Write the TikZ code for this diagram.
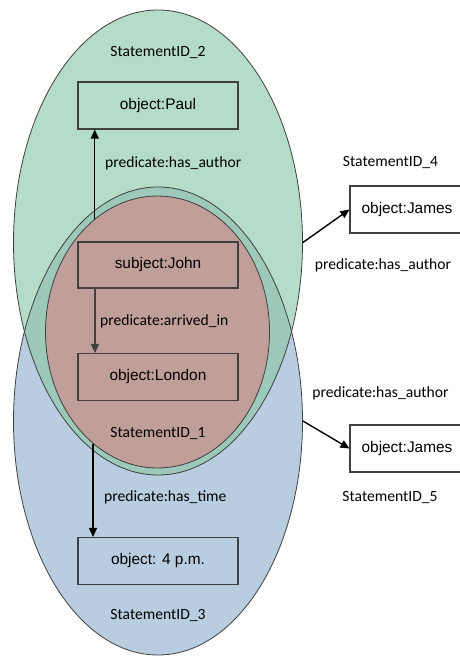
\documentclass[tikz,border=0pt]{standalone}
\usepackage{fontspec}
\setmainfont{Carlito}
\newfontfamily\boxfont{Liberation Sans}
\usetikzlibrary{shapes.geometric, arrows.meta}
\usetikzlibrary{positioning}
\definecolor{stmtgreen}{RGB}{181,220,200}
\definecolor{stmtblue}{RGB}{184,205,224}
\definecolor{stmtteal}{RGB}{156,201,185}
\definecolor{stmtrose}{RGB}{192,158,153}
\definecolor{edgegray}{RGB}{64,64,64}
\tikzset{
  stmt/.style={draw=edgegray, line width=0.8pt, ellipse, inner sep=0pt},
  obj/.style={draw=edgegray, line width=1.1pt, rectangle, minimum width=160pt,
    minimum height=47pt, inner sep=0pt, font=\boxfont\fontsize{15.4pt}{18pt}\selectfont},
  lbl/.style={font=\fontsize{15.6pt}{18pt}\selectfont, inner sep=0pt},
  arr/.style={-{Triangle[length=9pt,width=8pt]}, line width=1.4pt},
}

\begin{document}
\begin{tikzpicture}[x=1pt, y=-1pt]
          \useasboundingbox (0,0) rectangle (459,657);
          \node[stmt, fill=stmtgreen, minimum width=289pt, minimum height=465pt] (s2) at (158,242.5) {};
          \node[stmt, fill=stmtblue, minimum width=289pt, minimum height=468pt,
            path picture={\fill[stmtteal, draw=edgegray, line width=0.8pt]
              (s2.center) ellipse [x radius=144.5pt, y radius=232.5pt];}] (s3) at (158,421) {};
          \node[stmt, fill=stmtrose, minimum width=224pt, minimum height=272pt] (s1) at (157.5,332) {};

          \node[obj] (paul) at (158,105.5) {object:Paul};
          \node[obj, minimum height=46pt] (john) at (158,265) {subject:John};
          \node[obj] (london) at (158,377) {object:London};
          \node[obj] (time) at (158,561) {object: 4 p.m.};
          \node[obj, minimum width=114pt] (james4) at (407,209.5) {object:James};
          \node[obj, minimum width=114pt] (james5) at (407,448.5) {object:James};

          \node[lbl] (id2) at (158,52) {StatementID\_2};
          \node[lbl, anchor=west] (p2) at (105,163) {predicate:has\_author};
          \node[lbl, anchor=west] (p1) at (100,321) {predicate:arrived\_in};
          \node[lbl] (id1) at (158,433) {StatementID\_1};
          \node[lbl, anchor=west] (p3) at (104,497) {predicate:has\_time};
          \node[lbl] (id3) at (158,615) {StatementID\_3};
          \node[lbl] (id4) at (390.5,162) {StatementID\_4};
          \node[lbl] (p4) at (383,265.5) {predicate:has\_author};
          \node[lbl] (p5) at (380.5,393) {predicate:has\_author};
          \node[lbl] (id5) at (390,497) {StatementID\_5};

          \draw[arr] (s1.119) -- (s1.119 |- paul.south);
          \draw[arr, draw=edgegray, line width=1.1pt] ([xshift=-63pt]john.south) -- ([xshift=-63pt]london.north);
          \draw[arr] (s1.240) -- (s1.240 |- time.north);
          \draw[arr] (s2.east) -- (james4.west);
          \draw[arr] (s3.east) -- (james5.west);
        \end{tikzpicture}
\end{document}
